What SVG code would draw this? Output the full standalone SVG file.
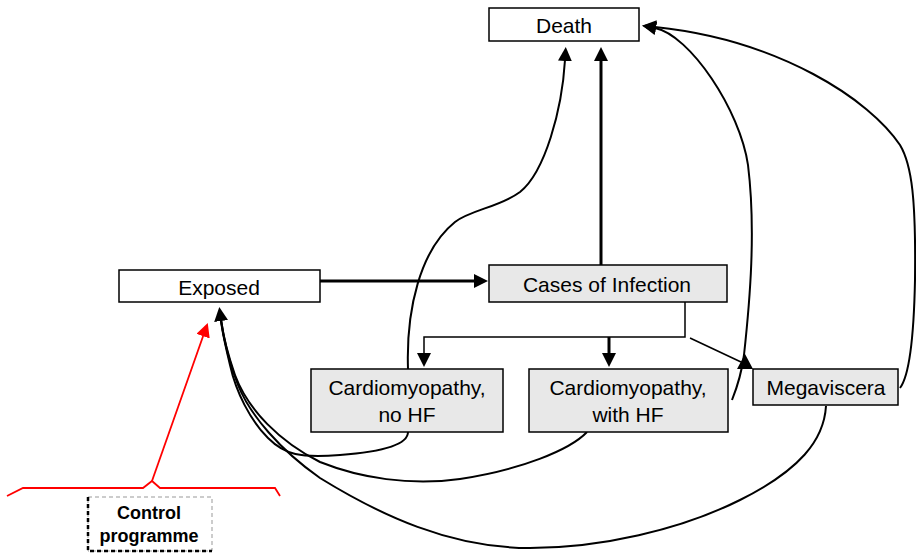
<svg xmlns="http://www.w3.org/2000/svg" width="916" height="553" viewBox="0 0 916 553">
<style>
.box{stroke:#000;stroke-width:1.5}
.w{fill:#fff}
.g{fill:#e8e8e8}
.t{font-family:"Liberation Sans",Arial,sans-serif;font-size:21px;fill:#000;text-anchor:middle}
.tb{font-family:"Liberation Sans",Arial,sans-serif;font-size:18px;font-weight:bold;fill:#000;text-anchor:middle}
.c{fill:none;stroke:#000;stroke-width:2;stroke-linejoin:round}
.thin{fill:none;stroke:#000;stroke-width:1.5}
.thick{fill:none;stroke:#000;stroke-width:3}
.red{fill:none;stroke:#f00;stroke-width:1.8}
</style>
<defs>
<marker id="ah" markerUnits="userSpaceOnUse" viewBox="0 -7 14 14" refX="1" refY="0" markerWidth="14" markerHeight="14" orient="auto">
<path d="M0,-7 L14,0 L0,7 z" fill="#000"/>
</marker>
<marker id="ahr" markerUnits="userSpaceOnUse" viewBox="0 -7 14 14" refX="1" refY="0" markerWidth="14" markerHeight="14" orient="auto">
<path d="M0,-7 L14,0 L0,7 z" fill="#f00"/>
</marker>
</defs>

<g id="connectors">
<path class="thick" d="M320,281 H475" marker-end="url(#ah)"/>
<path class="thick" d="M601,265 V60" marker-end="url(#ah)"/>
<path class="thin" d="M685,302 V337 H424 V354" marker-end="url(#ah)"/>
<path class="thick" d="M609,337 V354" marker-end="url(#ah)"/>
<path class="thin" d="M690,338 L741,362"/>
<polygon points="745,354 737,369 753,369" fill="#000"/>
<path class="c" d="M408,369 C406,310 420,250 455,222 C470,210 500,207 520,192 C545,172 562,110 565,60" marker-end="url(#ah)"/>
<path class="c" d="M732,400 C738,385 742,370 744,355 C750,300 756,230 748,165 C740,110 690,35 655,28" marker-end="url(#ah)"/>
<path class="c" d="M900,388 C910,375 914,330 915,280 C916,200 912,165 900,145 C870,100 780,40 655,27" marker-end="url(#ah)"/>
<path class="c" d="M587,432 C570,450 520,470 460,479 C410,486 360,478 320,462 C280,442 248,410 235,375 C228,355 223,335 221,320" marker-end="url(#ah)"/>
<path class="c" d="M408,432 C408,445 380,452 340,455 C300,458 285,455 268,438 C250,420 236,392 230,365 C226,348 222,332 221,320"/>
<path class="c" d="M826,406 C824,440 800,470 740,500 C680,530 600,548 530,548 C450,548 380,515 320,478 C280,450 250,415 238,385 C230,365 224,340 221,320"/>
<polyline class="red" points="7,496 23,488 143,488 152,481 160,488 275,488 280,496"/>
<path class="red" d="M152,481 L203.4,335.2" marker-end="url(#ahr)"/>
</g>

<g id="death">
<rect class="box w" x="489" y="8" width="150" height="33"/>
<text class="t" x="564" y="33">Death</text>
</g>
<g id="exposed">
<rect class="box w" x="119" y="270" width="201" height="32"/>
<text class="t" x="219" y="295">Exposed</text>
</g>
<g id="cases">
<rect class="box g" x="489" y="265" width="238" height="37"/>
<text class="t" x="607" y="292">Cases of Infection</text>
</g>
<g id="cardio-nohf">
<rect class="box g" x="311" y="369" width="192" height="63"/>
<text class="t" x="407" y="395">Cardiomyopathy,</text>
<text class="t" x="407" y="422">no HF</text>
</g>
<g id="cardio-hf">
<rect class="box g" x="529" y="369" width="199" height="63"/>
<text class="t" x="628" y="395">Cardiomyopathy,</text>
<text class="t" x="628" y="422">with HF</text>
</g>
<g id="megaviscera">
<rect class="box g" x="753" y="369" width="145" height="36"/>
<text class="t" x="826" y="395">Megaviscera</text>
</g>
<g id="control">
<rect x="88" y="497" width="124" height="54" fill="#fff" stroke="#999" stroke-width="1" stroke-dasharray="4,3"/>
<path d="M88,497 V551 H212" fill="none" stroke="#000" stroke-width="2.5" stroke-dasharray="4,3"/>
<text class="tb" x="149" y="519">Control</text>
<text class="tb" x="149" y="542">programme</text>
</g>
</svg>
